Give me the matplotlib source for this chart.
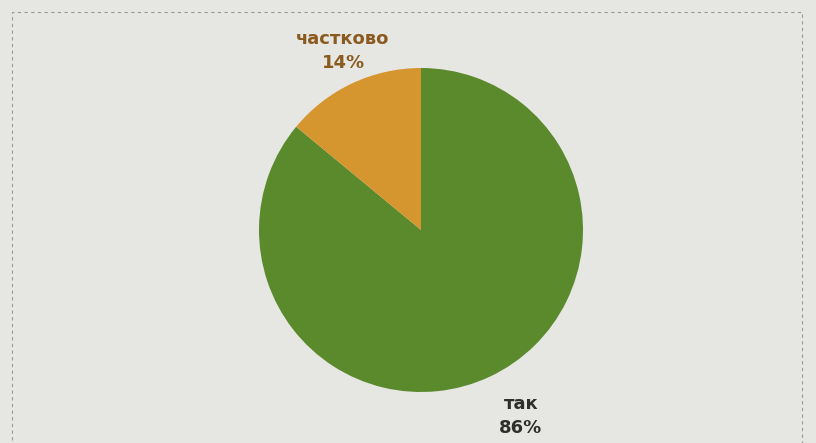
import matplotlib
matplotlib.use("Agg")
import matplotlib.pyplot as plt
from matplotlib.patches import Rectangle

categories = ["так", "частково"]
values = [86, 14]
pct_labels = ["86%", "14%"]
colors = ["#5a8a2c", "#d6962f"]
label_colors = ["#2e2e2a", "#8a5a1e"]

W, H = 816, 443
fig = plt.figure(figsize=(W / 100, H / 100), dpi=100)
fig.patch.set_facecolor("#e6e6e3")
ax = fig.add_axes([0, 0, 1, 1])
ax.set_xlim(0, W)
ax.set_ylim(0, H)
ax.set_aspect("equal")
ax.axis("off")

cx, cy, r = 421, H - 230, 162
ax.pie(values, colors=colors, startangle=90, counterclock=False,
       center=(cx, cy), radius=r, frame=True,
       wedgeprops=dict(linewidth=0))
ax.set_xlim(0, W)
ax.set_ylim(0, H)
ax.axis("off")

ax.add_patch(Rectangle((12, -20), 790, H - 12 + 20, fill=False,
                       edgecolor="#9a9a9a", linestyle=(0, (3, 3)), linewidth=0.8))

pos = {"так": (521, H - 416), "частково": (343, H - 51)}
for cat, p, c in zip(categories, pct_labels, label_colors):
    x, y = pos[cat]
    ax.text(x, y, f"{cat}\n{p}", ha="center", va="center", color=c,
            fontsize=13, fontweight="bold", family="DejaVu Sans", linespacing=1.45)

fig.savefig("out.png", dpi=100, facecolor=fig.get_facecolor())
